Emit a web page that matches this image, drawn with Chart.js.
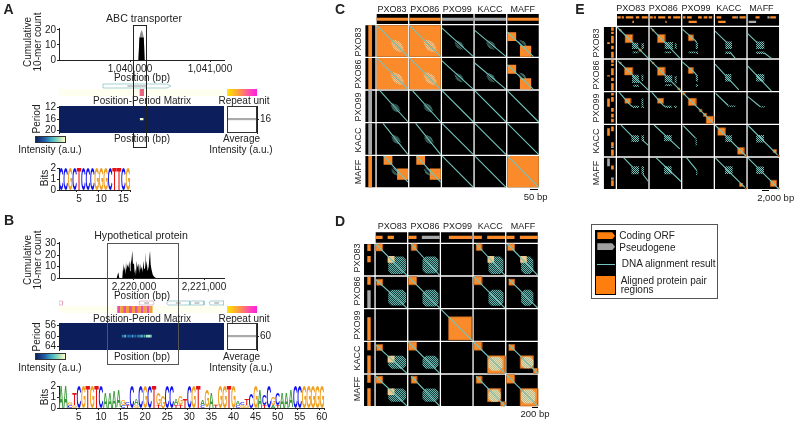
<!DOCTYPE html>
<html>
<head>
<meta charset="utf-8">
<title>Repeat figure</title>
<script src="https://cdn.jsdelivr.net/npm/chart.js@4/dist/chart.umd.min.js"></script>
<style>
  html, body { margin: 0; padding: 0; background: #fff; }
  #page { position: relative; width: 796px; height: 424px; overflow: hidden; font-family: "Liberation Sans", Arial, sans-serif; color: #222; filter: blur(0.3px); }
  #page canvas { position: absolute; }
  .t { position: absolute; white-space: nowrap; line-height: 1; z-index: 5; }
  .d { position: absolute; z-index: 4; box-sizing: border-box; }
</style>
</head>
<body>
<div id="page"></div>
<script>
// ---- data ----
var genomes = ['PXO83', 'PXO86', 'PXO99', 'KACC', 'MAFF'];

var histAPos = [1040090, 1040105, 1040118, 1040130, 1040146, 1040160, 1040172, 1040185];
var histACore = [0, 0, 15, 15, 15, 15, 15, 0];
var histATop = [0, 0, 15, 18, 20, 18, 15, 0];
var histBPos = [2219752, 2219776, 2219790, 2219833, 2219848, 2219855, 2219867, 2219878, 2219886, 2219895, 2219905, 2219920, 2219933, 2219944, 2219952, 2219964, 2219976, 2219985, 2220000, 2220010, 2220019, 2220028, 2220038, 2220050, 2220062, 2220074, 2220086, 2220098, 2220110, 2220122, 2220133, 2220145, 2220157, 2220169, 2220181, 2220195, 2220210, 2220220, 2220229, 2220238, 2220248, 2220267, 2220286, 2220300, 2220314];
var histBCount = [0, 5, 0, 0, 13, 6, 10, 3, 14, 7, 12, 9, 15, 6, 12, 16, 24, 12, 13, 4, 8, 2, 15, 9, 13, 4, 13, 7, 10, 5, 15, 8, 23, 9, 15, 6, 10, 18, 24, 12, 8, 3, 1, 1, 0];

var heatAPos = [1040146];
var heatAValue = [0.95];
var heatBPos = [2219840, 2219875, 2219920, 2219945, 2219980, 2220020, 2220060, 2220085, 2220110, 2220150, 2220185, 2220215, 2220240];
var heatBValue = [0.35, 0.55, 0.3, 0.25, 0.45, 0.3, 0.35, 0.3, 0.55, 0.5, 0.8, 0.85, 0.6];
var stripeBStart = [2219761, 2219803, 2219845, 2219887, 2219929, 2219971, 2220013, 2220055, 2220097, 2220139, 2220181, 2220223];

var logoALetters = ['C', 'C', 'G', 'C', 'T', 'C', 'C', 'C', 'G', 'G', 'G', 'C', 'T', 'T', 'C', 'G'];
var logoABits = [2, 2, 2, 2, 2, 2, 2, 2, 2, 2, 2, 2, 2, 2, 2, 2];
var logoBLetters = ['A','A','G','T','C','G','T','G','T','C','A','A','A','A','G','C','C','A','C','G','C','T','G','G','C','C','A','G','T','C','G','T','A','G','A','G','G','G','T','G','A','C','T','C','G','A','C','C','G','C','A','A','A','C','C','G','G','G','G','G'];
var logoBBits = [2,2,0.55,1.3,2,2,2,2,2,2,1.5,1.45,1.55,1.6,0.7,0.5,2,0.9,2,2,2,2,1.3,1.1,2,2,0.9,1.1,0.9,2,2,2,0.7,1.6,1.5,0.45,2,2,2,2,0.6,0.5,0.9,1.3,2,1.7,1.2,2,1,1.4,1.5,1.4,1.6,2,2,2,2,2,2,2];
var logoBUnder = ['','','C','G','','','','','','','','','','','C','T','','G','','','','','T','','','','T','T','','','','','C','','','T','','','','','C','G','G','','','','T','','A','T','','','','','','','','','',''];

// panel C: [row, col, u0, u1, v0, v1]
var orfC = [[0,0,0,1,0,1],[0,1,0,1,0,1],[1,0,0,1,0,1],[1,1,0,1,0,1],[4,4,0,1,0,1],
  [0,4,0,.28,.22,.5],[0,4,.4,.76,.65,1],[1,4,0,.28,.22,.5],[1,4,.4,.76,.65,1],
  [4,0,.22,.5,0,.28],[4,0,.65,1,.4,.76],[4,1,.22,.5,0,.28],[4,1,.65,1,.4,.76]];
// [row, col, u0, v0, u1, v1]
var lineC = [[0,0,0,0,1,1],[0,1,0,0,1,1],[1,0,0,0,1,1],[1,1,0,0,1,1],[4,4,0,0,1,1],
  [0,2,0,.09,1,1],[1,2,0,.09,1,1],[0,3,0,.16,1,1],[1,3,0,.16,1,1],
  [2,0,.1,0,1,1],[2,1,.1,0,1,1],[3,0,.2,0,1,1],[3,1,.2,0,1,1],
  [0,4,0,.22,.83,1],[1,4,0,.22,.83,1],[4,0,.22,0,1,.83],[4,1,.22,0,1,.83],
  [2,2,0,0,1,1],[2,3,0,0,1,1],[3,2,0,0,1,1],[3,3,0,0,1,1],[2,4,0,0,1,1],[3,4,0,0,1,1],[4,2,0,0,1,1],[4,3,0,0,1,1]];
// [row, col, centre u, centre v, size]
var ladderC = [[0,0,.66,.66,.85],[0,1,.66,.66,.85],[1,0,.66,.66,.85],[1,1,.66,.66,.85],
  [0,2,.55,.63,.62],[1,2,.55,.63,.62],[0,3,.52,.63,.62],[1,3,.52,.63,.62],
  [2,0,.6,.55,.62],[2,1,.6,.55,.62],[3,0,.62,.52,.62],[3,1,.62,.52,.62],
  [0,4,.48,.6,.55],[1,4,.48,.6,.55],[4,0,.6,.5,.55],[4,1,.6,.5,.55]];
var ladderOffset = [-.2, -.14, -.07, .07, .14, .2];
var ladderHalf = [.07, .14, .18, .18, .14, .07];
var trackCColour = ['orf', 'orf', 'pseudo', 'pseudo', 'orf'];

// panel D genes, fractions of each genome
var genesD = [
  [[.01,.22,'orf'],[.38,.58,'orf']],
  [[0,.26,'orf'],[.43,1,'pseudo']],
  [[.25,.99,'orf']],
  [[0,.26,'orf'],[.43,1,'orf']],
  [[0,.26,'orf'],[.43,1,'orf']]
];
var orfD = [[0,0,0,.22,0,.22],[0,1,.09,.27,0,.21],[0,3,.08,.26,0,.21],[0,4,.04,.26,0,.21],
  [1,0,.03,.22,.08,.27],[1,1,0,.26,0,.26],[1,3,0,.26,0,.26],[1,4,.08,.26,.08,.27],
  [3,0,.03,.22,.08,.27],[3,1,0,.26,0,.26],[3,3,0,.26,0,.26],[3,4,.08,.26,.08,.27],
  [4,0,.01,.22,.05,.27],[4,1,.09,.27,.05,.27],[4,3,.08,.26,.05,.27],[4,4,0,.26,0,.27],
  [2,2,.24,.98,.24,.98],
  [3,3,.44,1,.44,1],[3,4,.44,.86,.44,.84],[3,4,.86,1,.84,1],[4,3,.44,.86,.44,.86],[4,3,.86,1,.86,1],[4,4,.44,1,.44,1]];
var lineD = [[0,0,0,0],[0,1,.09,0],[0,3,.08,0],[0,4,.04,0],[1,0,0,.09],[1,1,0,0],[1,3,0,0],[1,4,.08,.08],
  [2,2,0,0],[3,0,0,.09],[3,1,0,0],[3,3,0,0],[3,4,.08,.08],[4,0,0,.05],[4,1,.09,.05],[4,3,.08,.05],[4,4,0,0]];
var repeatD = [[0,0,.4,.97,.4,.96],[0,1,.45,.96,.4,.94],[0,3,.47,.95,.4,.96],[0,4,.47,.86,.4,.96],
  [1,0,.4,.97,.42,.92],[1,1,.45,.96,.42,.95],[1,3,.47,.95,.42,.93],[1,4,.47,.86,.42,.93],
  [3,0,.4,.97,.44,.85],[3,1,.45,.96,.44,.85],[4,0,.4,.97,.44,.86],[4,1,.45,.96,.44,.86]];
var repeatPaleD = [[3,3,.47,.92,.47,.92],[3,4,.47,.86,.47,.84],[4,3,.47,.86,.47,.86],[4,4,.47,.92,.47,.92]];
var paleD = [[0,0,.38,.6,.38,.6],[0,3,.44,.65,.38,.6],[0,4,.44,.65,.38,.6],[3,0,.38,.6,.44,.65],[4,0,.38,.6,.44,.65]];

// panel E genes: lane 0 far lane, lane 1 second lane
var genesE = [
  [[.01,.12,'orf',0],[.15,.22,'orf',0],[.28,.52,'orf',0],[.6,.71,'orf',0],[.79,.98,'orf',0],[.49,.54,'orf',1]],
  [[0,.1,'orf',0],[.13,.2,'orf',0],[.27,.5,'orf',0],[.58,.68,'orf',0],[.75,.98,'orf',0],[.5,.54,'orf',1]],
  [[.02,.1,'orf',0],[.15,.3,'orf',0],[.5,.62,'orf',0],[.68,.8,'orf',0],[.84,.95,'orf',0],[.2,.46,'orf',1]],
  [[.05,.2,'orf',0],[.55,.68,'orf',0],[.68,.73,'pseudo',0],[.78,.98,'orf',0],[.1,.34,'orf',1]],
  [[.25,.38,'orf',0],[.63,.7,'pseudo',0],[.72,.9,'orf',0],[.03,.27,'pseudo',1]]
];
// upper triangle of panel E, the lower one is the same cell flipped
var cellsE = [
  {r:0,c:0,lines:[[0,0,1,1]],orf:[[.26,.5,.24,.5],[.08,.13,.08,.13],[.7,.77,.7,.77]],rep:[[.48,.68,.5,.7],[.78,.86,.52,.7],[.5,.68,.78,.84]]},
  {r:0,c:1,lines:[[.03,.02,.97,1]],orf:[[.25,.49,.24,.5],[.08,.13,.08,.13]],rep:[[.48,.74,.48,.7],[.8,.86,.52,.7],[.48,.68,.78,.84]]},
  {r:0,c:2,lines:[[0,.07,.4,.42],[.4,.42,.46,.5]],orf:[[.19,.35,.25,.44]],rep:[[.43,.5,.5,.7],[.43,.5,.78,.86],[.2,.42,.78,.84]]},
  {r:0,c:3,lines:[[0,.13,.38,.5],[.49,.82,.65,1]],orf:[],rep:[[.33,.54,.46,.7],[.33,.52,.78,.86]]},
  {r:0,c:4,lines:[[0,.21,.3,.5],[.52,.82,.76,1]],orf:[],rep:[[.27,.53,.46,.7],[.27,.52,.78,.86]]},
  {r:1,c:1,lines:[[0,0,1,1]],orf:[[.25,.49,.24,.5],[.08,.13,.08,.13],[.9,.96,.9,.96]],rep:[[.48,.72,.5,.72],[.8,.86,.52,.75],[.5,.7,.78,.84]]},
  {r:1,c:2,lines:[[0,.07,.4,.42],[.4,.42,.46,.5]],orf:[[.19,.35,.25,.44]],rep:[[.43,.5,.5,.7],[.43,.5,.78,.86]]},
  {r:1,c:3,lines:[[0,.14,.76,.96]],orf:[],rep:[[.32,.52,.46,.7]]},
  {r:1,c:4,lines:[[0,.2,.76,1]],orf:[],rep:[[.27,.53,.46,.7]]},
  {r:2,c:2,lines:[[0,0,1,1]],orf:[[0,.08,0,.08],[.19,.44,.19,.42],[.54,.62,.54,.62],[.67,.77,.67,.77],[.76,1,.76,1]],rep:[]},
  {r:2,c:3,lines:[[.02,.03,.42,.42]],orf:[],rep:[[.42,.65,.42,.46]]},
  {r:2,c:4,lines:[[0,.13,.39,.45]],orf:[],rep:[[.39,.55,.44,.48]]},
  {r:3,c:3,lines:[[0,0,1,1]],orf:[[.09,.33,.09,.33],[.72,.93,.72,.93],[.95,1,.95,1]],rep:[[.33,.54,.33,.54]]},
  {r:3,c:4,lines:[[0,0,.95,.95]],orf:[[.81,.92,.78,.88],[.97,1,.96,1]],rep:[[.27,.52,.32,.56]]},
  {r:4,c:4,lines:[[0,0,1,1]],orf:[[.72,.92,.72,.92],[.96,1,.96,1]],rep:[[.27,.52,.28,.52]]}
];

// ---- colours ----
var ORANGE = '#fa8a2a', GRAY = '#a8a8a8', TEAL = '#74c4bc', NAVY = '#0c1f5c', INK = '#222';
var heatStops = [[12,31,92], [34,94,168], [65,182,196], [161,218,180], [255,255,204]];
var ORF_COL = { orf: ORANGE, pseudo: GRAY };

var page = document.getElementById('page');

function label(text, x, y, o) {
  o = o || {};
  var el = document.createElement('div');
  el.className = 't';
  el.textContent = text;
  el.style.left = x + 'px';
  el.style.top = y + 'px';
  el.style.fontSize = (o.size || 10) + 'px';
  if (o.bold) el.style.fontWeight = 'bold';
  if (o.colour) el.style.color = o.colour;
  var shift = o.left ? 'translate(0,-50%)' : 'translate(-50%,-50%)';
  el.style.transform = shift + (o.rot ? ' rotate(' + o.rot + 'deg)' : '');
  page.appendChild(el);
}

function block(x, y, w, h, css) {
  var el = document.createElement('div');
  el.className = 'd';
  el.style.left = x + 'px';
  el.style.top = y + 'px';
  el.style.width = w + 'px';
  el.style.height = h + 'px';
  for (var k in css) el.style[k] = css[k];
  page.appendChild(el);
  return el;
}

function ramp(v) {
  var p = v * (heatStops.length - 1), i = Math.min(Math.floor(p), heatStops.length - 2), f = p - i;
  var a = heatStops[i], b = heatStops[i + 1];
  return 'rgb(' + [0, 1, 2].map(function (k) { return Math.round(a[k] + (b[k] - a[k]) * f); }).join(',') + ')';
}

function box(x0, x1, y0, y1, colour, edge) {
  return {
    showLine: true, fill: 'shape', backgroundColor: colour, pointRadius: 0,
    borderWidth: edge ? 0.6 : 0, borderColor: edge || colour,
    data: [{x: x0, y: y0}, {x: x1, y: y0}, {x: x1, y: y1}, {x: x0, y: y1}, {x: x0, y: y0}]
  };
}

function poly(points, stroke, fillCol, width) {
  return {
    showLine: true, fill: fillCol ? 'shape' : false, backgroundColor: fillCol || 'transparent',
    pointRadius: 0, borderWidth: width || 0.7, borderColor: stroke, data: points
  };
}

function baseOptions(scales, pad) {
  return {
    responsive: false, animation: false, events: [],
    layout: { autoPadding: false, padding: pad || 0 },
    plugins: { legend: { display: false }, tooltip: { enabled: false } },
    scales: scales
  };
}

// rect is the plot area in page pixels, m the room for axes around it
function makeChart(rect, m, type, datasets, scales, extra) {
  var cv = document.createElement('canvas');
  var w = rect.w + m.l + m.r, h = rect.h + m.t + m.b;
  cv.width = w; cv.height = h;
  cv.style.left = (rect.x - m.l) + 'px';
  cv.style.top = (rect.y - m.t) + 'px';
  cv.style.width = w + 'px';
  cv.style.height = h + 'px';
  page.appendChild(cv);
  // the library paints the first dataset last, the lists here are bottom first
  var cfg = {
    type: type,
    data: { labels: extra && extra.labels, datasets: datasets.slice().reverse() },
    options: baseOptions(scales, {
      top: m.t,
      right: (scales.y && scales.y.position === 'right') ? 0 : m.r,
      bottom: scales.x.display === false ? m.b : 0
    })
  };
  if (extra && extra.plugins) cfg.plugins = extra.plugins;
  return new Chart(cv, cfg);
}

function xAxis(min, max, ticks, room, fmt) {
  return {
    type: 'linear', min: min, max: max,
    afterBuildTicks: function (s) { s.ticks = ticks.map(function (v) { return {value: v}; }); },
    afterFit: function (s) { s.height = room; },
    border: { color: INK, width: 1 },
    grid: { drawOnChartArea: false, tickLength: 2, tickColor: INK },
    ticks: { font: { size: 10, family: 'Liberation Sans' }, color: INK, padding: 1, maxRotation: 0, autoSkip: false, callback: fmt }
  };
}

function yAxis(min, max, ticks, room, reverse, side) {
  return {
    type: 'linear', min: min, max: max, reverse: !!reverse, position: side || 'left',
    afterBuildTicks: function (s) { s.ticks = ticks.map(function (v) { return {value: v}; }); },
    afterFit: function (s) { s.width = room; },
    border: { color: INK, width: 1 },
    grid: { drawOnChartArea: false, tickLength: 2, tickColor: INK },
    ticks: { font: { size: 10, family: 'Liberation Sans' }, color: INK, padding: 1, autoSkip: false }
  };
}

function hidden(min, max, rev) {
  return { type: 'linear', display: false, min: min, max: max, reverse: !!rev };
}

function bp(v) { return Number(v).toLocaleString('en-US'); }

function series(xs, ys) {
  return xs.map(function (x, i) { return {x: x, y: ys[i]}; });
}

// ---- panels A and B ----
var LEFT = 59, PLOT_W = 165;
var xA = [1039112.5, 1041175], xB = [2218928.6, 2221285.7];

function histChart(y, h, xr, xTicks, yMax, yTicks, sets) {
  makeChart({x: LEFT, y: y, w: PLOT_W, h: h}, {l: 30, r: 20, t: 7, b: 16}, 'scatter', sets, {
    x: xAxis(xr[0], xr[1], xTicks, 16, bp),
    y: yAxis(0, yMax, yTicks, 30)
  });
}

histChart(28, 32, xA, [1040000, 1041000], 21.33, [0, 10, 20], [
  { showLine: true, fill: 'origin', backgroundColor: '#8f8f8f', borderWidth: 0, pointRadius: 0, data: series(histAPos, histATop) },
  { showLine: true, fill: 'origin', backgroundColor: '#000', borderWidth: 0, pointRadius: 0, data: series(histAPos, histACore) }
]);
histChart(242, 36, xB, [2220000, 2221000], 31.5, [0, 10, 20, 30], [
  { showLine: true, fill: 'origin', backgroundColor: '#000', borderWidth: 0, pointRadius: 0, data: series(histBPos, histBCount) }
]);

function gene(x0, x1, colour, dir) {
  var tip = (x1 - x0) * 0.06;
  var pts = dir > 0
    ? [[x0, 1], [x1 - tip, 1], [x1, 3], [x1 - tip, 5], [x0, 5], [x0, 1]]
    : [[x0 + tip, 1], [x1, 1], [x1, 5], [x0 + tip, 5], [x0, 3], [x0 + tip, 1]];
  return poly(pts.map(function (p) { return {x: p[0], y: p[1]}; }), colour, '#fff', 0.7);
}

// the names inside the gene arrows are unreadable in the picture, a short grey dash stands in
function geneMark(mid, half) {
  return poly([{x: mid - half, y: 3}, {x: mid + half, y: 3}], '#888', null, 0.9);
}

// gene track and repeat unit strip sit on the same bp scale as the histogram
makeChart({x: LEFT, y: 83, w: PLOT_W, h: 14}, {l: 0, r: 0, t: 0, b: 0}, 'scatter', [
  box(xA[0], xA[1], 6, 13, '#fffff0'),
  gene(1039662, 1040512, '#7fbcc0', 1),
  geneMark(1040087, 120),
  box(1040121, 1040175, 6, 13, '#e8647f')
], { x: hidden(xA[0], xA[1]), y: hidden(0, 14, true) });

var stripeSets = stripeBStart.map(function (s, i) {
  return box(s, s + 42, 6, 13, i % 2 ? '#f0a030' : '#e84fb0');
});
makeChart({x: LEFT, y: 300, w: PLOT_W, h: 14}, {l: 0, r: 0, t: 0, b: 0}, 'scatter', [
  box(xB[0], xB[1], 6, 13, '#fffff0'),
  gene(2218929, 2218981, '#e0a0c0', 1),
  gene(2220076, 2220286, '#d8a0b8', 1),
  geneMark(2220181, 35),
  gene(2220467, 2220800, '#7fbcc0', -1),
  geneMark(2220633, 35),
  gene(2220800, 2221000, '#7fbcc0', -1),
  geneMark(2220900, 35),
  gene(2221076, 2221286, '#7fbcc0', -1),
  geneMark(2221181, 35)
].concat(stripeSets), { x: hidden(xB[0], xB[1]), y: hidden(0, 14, true) });

function heatChart(y, h, xr, yr, ticks, cells) {
  makeChart({x: LEFT, y: y, w: PLOT_W, h: h}, {l: 30, r: 0, t: 7, b: 7}, 'scatter',
    [box(xr[0], xr[1], yr[0], yr[1], NAVY)].concat(cells),
    { x: hidden(xr[0], xr[1]), y: yAxis(yr[0], yr[1], ticks, 30, true) });
}
heatChart(106, 27, xA, [11.4, 20.9], [12, 16, 20], heatAPos.map(function (p, i) {
  return box(p - 22, p + 22, 15.6, 16.4, ramp(heatAValue[i]));
}));
heatChart(323, 27, xB, [55, 65.3], [56, 60, 64], heatBPos.map(function (p, i) {
  return box(p - 14, p + 14, 59.5, 60.5, ramp(heatBValue[i]));
}));

function avgChart(y, h, yr, period) {
  makeChart({x: 227, y: y, w: 30, h: h}, {l: 0, r: 18, t: 7, b: 7}, 'scatter', [
    poly([{x: 0.03, y: period}, {x: 0.97, y: period}], '#aaa', null, 2.2)
  ], { x: hidden(0, 1), y: yAxis(yr[0], yr[1], [period], 18, true, 'right') });
  block(227, y, 30, h, { border: '1px solid #333' });
}
avgChart(106, 27, [11.4, 20.9], 16);
avgChart(323, 27, [55, 65.3], 60);

var LOGO_COL = { A: '#3c9a3c', C: '#1010ee', G: '#f0a020', T: '#e81010' };
var logoPlugin = {
  id: 'logoGlyphs',
  afterDatasetsDraw: function (chart) {
    var ctx = chart.ctx;
    chart.data.datasets.forEach(function (ds, d) {
      chart.getDatasetMeta(d).data.forEach(function (bar, i) {
        var ch = ds.letters[i];
        if (!ch) return;
        ctx.save();
        ctx.font = 'bold 40px "Liberation Sans"';
        ctx.textBaseline = 'alphabetic';
        ctx.fillStyle = LOGO_COL[ch];
        var m = ctx.measureText(ch);
        var gw = m.actualBoundingBoxLeft + m.actualBoundingBoxRight;
        var gh = m.actualBoundingBoxAscent + m.actualBoundingBoxDescent;
        ctx.translate(bar.x - bar.width / 2, Math.min(bar.y, bar.base));
        ctx.scale(bar.width / gw, Math.abs(bar.base - bar.y) / gh);
        ctx.fillText(ch, m.actualBoundingBoxLeft, m.actualBoundingBoxAscent);
        ctx.restore();
      });
    });
  }
};

function logoChart(y, w, letters, bits, under) {
  var labels = letters.map(function (l, i) { return i + 1; });
  var sets = [{
    letters: letters, backgroundColor: 'transparent', barPercentage: 1, categoryPercentage: 1, grouped: false,
    data: bits.map(function (b, i) { var u = under && under[i] ? 0.3 : 0; return [u, Math.max(b, u + 0.1)]; })
  }];
  if (under) {
    sets.push({
      letters: under, backgroundColor: 'transparent', barPercentage: 1, categoryPercentage: 1, grouped: false,
      data: under.map(function (u) { return u ? [0, 0.3] : [0, 0]; })
    });
  }
  makeChart({x: LEFT, y: y, w: w, h: 22}, {l: 14, r: 8, t: 7, b: 14}, 'bar', sets, {
    x: {
      afterFit: function (s) { s.height = 14; },
      border: { color: INK, width: 1 },
      grid: { drawOnChartArea: false, tickLength: 2, tickColor: function (c) { return (c.index + 1) % 5 ? 'transparent' : INK; } },
      ticks: { font: { size: 10, family: 'Liberation Sans' }, color: INK, padding: 1, autoSkip: false, maxRotation: 0,
        callback: function (v, i) { return (i + 1) % 5 ? '' : i + 1; } }
    },
    y: yAxis(0, 2, [0, 1, 2], 14)
  }, { labels: labels, plugins: [logoPlugin] });
}
logoChart(168, 71, logoALetters, logoABits);
logoChart(386, 265, logoBLetters, logoBBits, logoBUnder);

// outlines that run across the stacked tracks
block(132.5, 25, 14.5, 123, { border: '1px solid #222' });
block(107.3, 242.5, 72, 122, { border: '1px solid #555' });

// colour bars
var heatGrad = 'linear-gradient(90deg,#0c1f5c,#225ea8 30%,#41b6c4 55%,#a1dab4 78%,#ffffcc)';
var unitGrad = 'linear-gradient(90deg,#ffe600,#ff9a40 40%,#ff40c0 80%,#ff20e0)';
block(35, 136, 31, 7, { background: heatGrad, border: '1px solid #333' });
block(35, 353, 31, 7, { background: heatGrad, border: '1px solid #333' });
block(227, 89, 30, 7, { background: unitGrad });
block(227, 306, 30, 7, { background: unitGrad });

// ---- texts of A and B ----
label('A', 8.5, 9, {size: 14, bold: true});
label('B', 9, 220, {size: 14, bold: true});
label('ABC transporter', 144, 18, {size: 10.6});
label('Hypothetical protein', 141, 235, {size: 10.6});
[0, 217.5].forEach(function (d) {
  label('Cumulative', 27.5, 42 + d, {rot: -90});
  label('10-mer count', 38, 42 + d, {rot: -90});
  label('Position (bp)', 142, 78 + d);
  label('Position-Period Matrix', 142, 101 + d);
  label('Repeat unit', 244, 101 + d);
  label('Period', 37, 119 + d, {rot: -90});
  label('Position (bp)', 142, 139 + d);
  label('Intensity (a.u.)', 50, 150 + d);
  label('Average', 241.5, 139 + d);
  label('Intensity (a.u.)', 241, 150 + d);
});
label('Bits', 45, 178, {rot: -90});
label('Bits', 45, 397, {rot: -90});

// ---- dot plot panels ----
var CELL = 0.96, PITCH = 32.67;

function dotChart(x0, y0, sets) {
  var L = Math.floor(x0 - 0.4 * PITCH), T = Math.floor(y0 - 0.4 * PITCH), W = 177, H = 177;
  makeChart({x: L, y: T, w: W, h: H}, {l: 0, r: 0, t: 0, b: 0}, 'scatter', sets, {
    x: hidden((L - x0) / PITCH, (L + W - x0) / PITCH),
    y: hidden((T - y0) / PITCH, (T + H - y0) / PITCH, true)
  });
}

function cellBox(r, c, a, colour, edge) {
  return box(c + a[0] * CELL, c + a[1] * CELL, r + a[2] * CELL, r + a[3] * CELL, colour, edge);
}

function segments(list, colour, width) {
  // every list entry is [row, col, u0, v0, u1, v1]
  var pts = [];
  list.forEach(function (s) {
    pts.push({x: s[1] + s[2] * CELL, y: s[0] + s[3] * CELL}, {x: s[1] + s[4] * CELL, y: s[0] + s[5] * CELL}, {x: null, y: null});
  });
  return { showLine: true, fill: false, pointRadius: 0, borderColor: colour, borderWidth: width || 0.9, data: pts };
}

function blackCells() {
  var out = [];
  genomes.forEach(function (g, r) {
    genomes.forEach(function (h, c) { out.push(box(c, c + CELL, r, r + CELL, '#000')); });
  });
  return out;
}

function trackFrames(t0, t1) {
  var out = [];
  genomes.forEach(function (g, i) {
    out.push(box(i, i + CELL, t0, t1, '#000'));
    out.push(box(t0, t1, i, i + CELL, '#000'));
  });
  return out;
}

function makeHatch(a, b, size) {
  var p = document.createElement('canvas');
  p.width = p.height = size;
  var c = p.getContext('2d');
  c.fillStyle = b; c.fillRect(0, 0, size, size);
  c.fillStyle = a;
  c.fillRect(0, 0, size / 2, size / 2);
  c.fillRect(size / 2, size / 2, size / 2, size / 2);
  return c.createPattern(p, 'repeat');
}

// Panel C
(function () {
  var sets = blackCells().concat(trackFrames(-0.346, -0.04));
  genomes.forEach(function (g, i) {
    var col = ORF_COL[trackCColour[i]];
    sets.push(box(i, i + CELL, -0.233, -0.14, col));
    sets.push(box(-0.257, -0.144, i, i + CELL, col));
  });
  orfC.forEach(function (o) { sets.push(cellBox(o[0], o[1], o.slice(2), ORANGE)); });
  var pale = [], dark = [];
  ladderC.forEach(function (l) {
    var target = (l[0] < 2 && l[1] < 2) ? pale : dark;
    ladderOffset.forEach(function (off, k) {
      var d = off * l[4], h = ladderHalf[k] * l[4] * 1.1;
      target.push([l[0], l[1], l[2] + d / 2 - h, l[3] - d / 2 - h, l[2] + d / 2 + h, l[3] - d / 2 + h]);
    });
  });
  sets.push(segments(pale, '#d4e6d2', 0.8));
  sets.push(segments(dark, TEAL, 0.6));
  sets.push(segments(lineC, TEAL, 1.1));
  dotChart(376.7, 25.3, sets);
  genomes.forEach(function (g, i) {
    label(g, 392 + i * PITCH, 8.7, {size: 9});
    label(g, 357.7, 41.7 + i * PITCH, {size: 9, rot: -90});
  });
  label('C', 340, 8.5, {size: 14, bold: true});
  block(530, 188.8, 8.3, 1.4, { background: '#000' });
  label('50 bp', 535.7, 197.3, {size: 9.5});
})();

// Panel D
(function () {
  var sets = blackCells().concat(trackFrames(-0.357, -0.04));
  genesD.forEach(function (list, i) {
    list.forEach(function (g) {
      sets.push(box(i + g[0] * CELL, i + g[1] * CELL, -0.25, -0.15, ORF_COL[g[2]]));
      sets.push(box(-0.257, -0.153, i + g[0] * CELL, i + g[1] * CELL, ORF_COL[g[2]]));
    });
  });
  var teal = makeHatch('#6ab2aa', '#143c3a', 2);
  var beige = makeHatch('#eadca8', '#b8bc94', 2);
  orfD.forEach(function (o) { sets.push(cellBox(o[0], o[1], o.slice(2), ORANGE, '#b8601a')); });
  function octagon(a, fillCol) {
    var r = a[0], c = a[1], u0 = c + a[2] * CELL, u1 = c + a[3] * CELL, v0 = r + a[4] * CELL, v1 = r + a[5] * CELL;
    var k = 0.1;
    return {
      showLine: true, fill: 'shape', backgroundColor: fillCol, borderWidth: 0, pointRadius: 0,
      data: [[u0 + k, v0], [u1 - k, v0], [u1, v0 + k], [u1, v1 - k], [u1 - k, v1], [u0 + k, v1], [u0, v1 - k], [u0, v0 + k], [u0 + k, v0]]
        .map(function (p) { return {x: p[0], y: p[1]}; })
    };
  }
  repeatD.forEach(function (o) { sets.push(octagon(o, teal)); });
  repeatPaleD.forEach(function (o) { sets.push(octagon(o, beige)); });
  paleD.forEach(function (o) { sets.push(cellBox(o[0], o[1], o.slice(2), '#ecc98c')); });
  sets.push(segments(lineD.map(function (d) { return [d[0], d[1], d[2], d[3], 1, 1]; }), TEAL, 1.1));
  dotChart(375.7, 244, sets);
  genomes.forEach(function (g, i) {
    label(g, 392.3 + i * PITCH, 225.7, {size: 9});
  });
  [258.3, 291, 325, 358.3, 389.3].forEach(function (y, i) {
    label(genomes[i], 357.3, y, {size: 9, rot: -90});
  });
  label('D', 340, 221, {size: 14, bold: true});
  block(531.7, 406.6, 6.6, 1.4, { background: '#000' });
  label('200 bp', 535, 414.3, {size: 9.5});
})();

// Panel E
(function () {
  var sets = blackCells().concat(trackFrames(-0.4, -0.04));
  genesE.forEach(function (list, i) {
    list.forEach(function (g) {
      var lane = g[3];
      var t = lane ? [-0.19, -0.12] : [-0.33, -0.26];
      var s = lane ? [-0.3, -0.22] : [-0.18, -0.1];
      sets.push(box(i + g[0] * CELL, i + g[1] * CELL, t[0], t[1], ORF_COL[g[2]]));
      sets.push(box(s[0], s[1], i + g[0] * CELL, i + g[1] * CELL, ORF_COL[g[2]]));
    });
  });
  var hatch = makeHatch('#74c4bc', '#0a1a1a', 2);
  var lines = [];
  function put(r, c, cell, flip) {
    cell.orf.forEach(function (o) {
      sets.push(cellBox(r, c, flip ? [o[2], o[3], o[0], o[1]] : o, ORANGE, '#a85410'));
    });
    cell.rep.forEach(function (o) {
      sets.push(cellBox(r, c, flip ? [o[2], o[3], o[0], o[1]] : o, hatch));
    });
    cell.lines.forEach(function (l) {
      lines.push(flip ? [r, c, l[1], l[0], l[3], l[2]] : [r, c, l[0], l[1], l[2], l[3]]);
    });
  }
  cellsE.forEach(function (cell) {
    put(cell.r, cell.c, cell, false);
    if (cell.r !== cell.c) put(cell.c, cell.r, cell, true);
  });
  sets.push(segments(lines, TEAL, 1.1));
  dotChart(617, 27, sets);
  genomes.forEach(function (g, i) {
    label(g, 630.7 + i * PITCH, 8, {size: 9});
    label(g, 596, 42.7 + i * PITCH, {size: 9, rot: -90});
  });
  label('E', 580, 8.5, {size: 14, bold: true});
  block(762, 190, 7, 1, { background: '#000' });
  label('2,000 bp', 775.7, 197.7, {size: 9.5});
})();

// ---- legend ----
block(590.7, 224.3, 127.6, 75, { border: '1px solid #555' });
block(595, 230, 20.7, 65, { background: '#000' });
block(597.3, 232.3, 17.7, 7, { background: '#ff7f0e', clipPath: 'polygon(0 0,85% 0,100% 50%,85% 100%,0 100%)' });
block(597.3, 243.3, 17.7, 7, { background: '#a0a0a0', clipPath: 'polygon(0 0,85% 0,100% 50%,85% 100%,0 100%)' });
block(597, 263.8, 18, 1, { background: TEAL });
block(596, 276, 19, 18, { background: '#ff7f0e' });
label('Coding ORF', 619.3, 236, {left: true});
label('Pseudogene', 619.3, 247.7, {left: true});
label('DNA alignment result', 621.7, 264.3, {left: true});
label('Aligned protein pair', 620.7, 280.7, {left: true});
label('regions', 620.7, 290, {left: true});
</script>
</body>
</html>
